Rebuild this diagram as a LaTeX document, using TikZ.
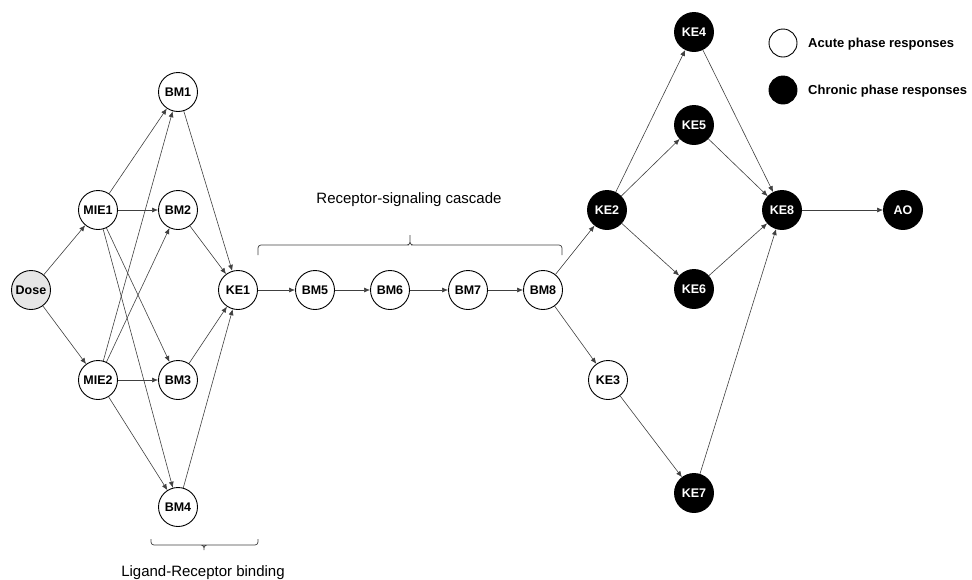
\documentclass[tikz,border=0pt]{standalone}
\usepackage{fontspec}
\setmainfont{Liberation Sans}
\usetikzlibrary{arrows.meta}
\definecolor{dosegray}{HTML}{E6E6E6}
\definecolor{edgegray}{HTML}{404040}
\tikzset{
  ev/.style={circle,draw=black,line width=0.9pt,minimum size=39pt,inner sep=0pt,
    font=\fontsize{12.5}{14}\selectfont\bfseries},
  acute/.style={ev,fill=white,text=black},
  chronic/.style={ev,fill=black,text=white},
  dosenode/.style={ev,fill=dosegray,text=black},
  lgacute/.style={circle,draw=black,line width=0.9pt,minimum size=28pt,inner sep=0pt,fill=white},
  lgchronic/.style={circle,draw=black,line width=0.9pt,minimum size=28pt,inner sep=0pt,fill=black},
  lgtext/.style={anchor=west,font=\fontsize{13}{15}\selectfont\bfseries,inner sep=0pt},
  brtext/.style={font=\fontsize{15}{17}\selectfont,inner sep=0pt},
  conn/.style={draw=edgegray,line width=0.6pt,-{Latex[length=6pt,width=5pt]}},
  bracepath/.style={draw=edgegray,line width=0.7pt,rounded corners=3pt}
}
\begin{document}
\begin{tikzpicture}[x=1pt,y=-1pt]
\useasboundingbox (0,0) rectangle (972,579);
% nodes
\node[dosenode] (Dose) at (31,290) {Dose};
\node[acute] (MIE1) at (98,210) {MIE1};
\node[acute] (MIE2) at (98,380) {MIE2};
\node[acute] (BM1) at (178,92) {BM1};
\node[acute] (BM2) at (178,210) {BM2};
\node[acute] (BM3) at (178,380) {BM3};
\node[acute] (BM4) at (178,507) {BM4};
\node[acute] (KE1) at (238,290) {KE1};
\node[acute] (BM5) at (315,290) {BM5};
\node[acute] (BM6) at (390,290) {BM6};
\node[acute] (BM7) at (468,290) {BM7};
\node[acute] (BM8) at (543,290) {BM8};
\node[chronic] (KE2) at (607,210) {KE2};
\node[acute] (KE3) at (608,380) {KE3};
\node[chronic] (KE4) at (694,32) {KE4};
\node[chronic] (KE5) at (694,125) {KE5};
\node[chronic] (KE6) at (694,289) {KE6};
\node[chronic] (KE7) at (694,493) {KE7};
\node[chronic] (KE8) at (782,210) {KE8};
\node[chronic] (AO) at (903,210) {AO};
% legend
\node[lgacute] (LA) at (783,43) {};
\node[lgchronic] (LC) at (783,90) {};
\node[lgtext] (LAt) at (808,44) {Acute phase responses};
\node[lgtext] (LCt) at (808,91) {Chronic phase responses};
% connectors
\foreach \a/\b in {Dose/MIE1,Dose/MIE2,
  MIE1/BM1,MIE1/BM2,MIE1/BM3,MIE1/BM4,
  MIE2/BM1,MIE2/BM2,MIE2/BM3,MIE2/BM4,
  BM1/KE1,BM2/KE1,BM3/KE1,BM4/KE1,
  KE1/BM5,BM5/BM6,BM6/BM7,BM7/BM8,
  BM8/KE2,BM8/KE3,KE2/KE4,KE2/KE5,KE2/KE6,KE3/KE7,
  KE4/KE8,KE5/KE8,KE6/KE8,KE7/KE8,KE8/AO}
  \draw[conn] (\a) -- (\b);
% braces
\coordinate (TBl) at (258,255);
\coordinate (TBr) at (562,255);
\coordinate (TBtip) at (410,235);
\draw[bracepath] (TBl) -- (258,245) -- (406,245) -- (TBtip |- 0,245) -- (TBtip)
  (TBtip) -- (TBtip |- 0,245) -- (414,245) -- (562,245) -- (TBr);
\node[brtext] (TBt) at (409,200) {Receptor-signaling cascade};
\coordinate (BBl) at (151,539);
\coordinate (BBr) at (258,539);
\coordinate (BBtip) at (204,550);
\draw[bracepath] (BBl) -- (151,545) -- (201,545) -- (BBtip |- 0,545) -- (BBtip)
  (BBtip) -- (BBtip |- 0,545) -- (207,545) -- (258,545) -- (BBr);
\node[brtext] (BBt) at (203,573) {Ligand-Receptor binding};
\end{tikzpicture}
\end{document}
